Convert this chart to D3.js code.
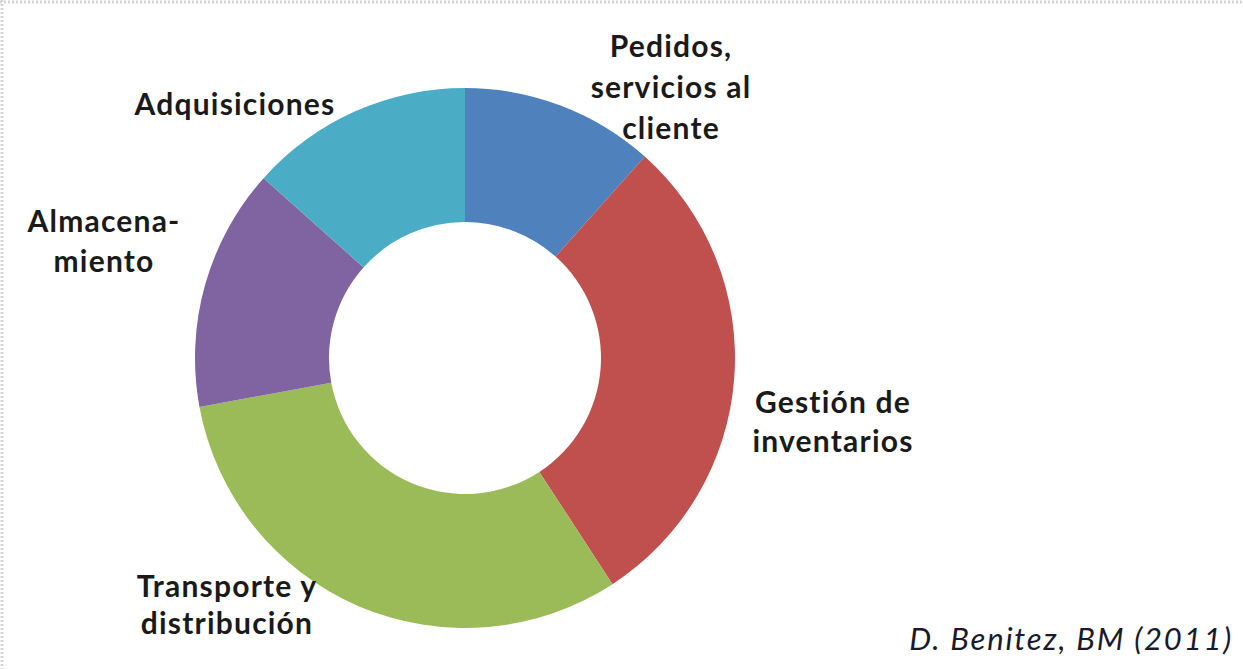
<!DOCTYPE html>
<html>
<head>
<meta charset="utf-8">
<script src="https://cdn.jsdelivr.net/npm/d3@7"></script>
<style>
  body { margin: 0; background: #fff; }
  svg { display: block; }
</style>
</head>
<body>
<svg width="1243" height="669"></svg>
<script>
// slices, clockwise from 12 o'clock
const categories = ["Pedidos, servicios al cliente", "Gestión de inventarios", "Transporte y distribución", "Almacenamiento", "Adquisiciones"];
const values = [11.6, 29.2, 31.3, 14.5, 13.4];
const labelLines = [
    ["Pedidos,", "servicios al", "cliente"],
    ["Gestión de", "inventarios"],
    ["Transporte y", "distribución"],
    ["Almacena-", "miento"],
    ["Adquisiciones"]
];
const source = "D. Benitez, BM (2011)";

const colors = ["#4F81BD", "#C0504D", "#9BBB59", "#8064A2", "#4BACC6"];

// where each label block sits (center x, first baseline y)
const labelPos = [[671, 57], [833, 413], [227, 597], [104, 232], [235, 115]];
const lineGap = [41, 39, 37, 40, 40];

const svg = d3.select('svg');
const W = 1243, H = 669;

// faint dotted frame at top and left
svg.append('line')
    .attr('x1', 0).attr('y1', 2).attr('x2', W).attr('y2', 2)
    .attr('stroke', '#d6d6d6').attr('stroke-width', 3)
    .attr('stroke-dasharray', '2,2');
svg.append('line')
    .attr('x1', 2).attr('y1', 0).attr('x2', 2).attr('y2', H)
    .attr('stroke', '#d6d6d6').attr('stroke-width', 3)
    .attr('stroke-dasharray', '2,2');

const cx = 465, cy = 358;
const outerR = 270, innerR = 136;

const pie = d3.pie().sort(null).value(d => d);
const arc = d3.arc().innerRadius(innerR).outerRadius(outerR);

const chart = svg.append('g')
    .attr('transform', `translate(${cx}, ${cy})`);

chart.selectAll('path')
    .data(pie(values))
    .enter()
    .append('path')
    .attr('d', arc)
    .attr('fill', (d, i) => colors[i]);

const labels = svg.selectAll('text.lbl')
    .data(categories)
    .enter()
    .append('text')
    .attr('class', 'lbl')
    .attr('font-family', 'Lato, "Open Sans", sans-serif')
    .attr('font-weight', 'bold')
    .attr('font-size', 30)
    .attr('letter-spacing', 1.2)
    .attr('fill', '#1a1a1a')
    .attr('text-anchor', 'middle');

labels.each(function (d, i) {
    const t = d3.select(this);
    labelLines[i].forEach((line, j) => {
        t.append('tspan')
            .attr('x', labelPos[i][0])
            .attr('y', labelPos[i][1] + j * lineGap[i])
            .text(line);
    });
});

svg.append('text')
    .attr('x', 1233)
    .attr('y', 650)
    .attr('text-anchor', 'end')
    .attr('font-family', 'Lato, "Open Sans", sans-serif')
    .attr('font-style', 'italic')
    .attr('font-size', 31)
    .attr('letter-spacing', 1.8)
    .attr('fill', '#1a1a2a')
    .text(source);
</script>
</body>
</html>
